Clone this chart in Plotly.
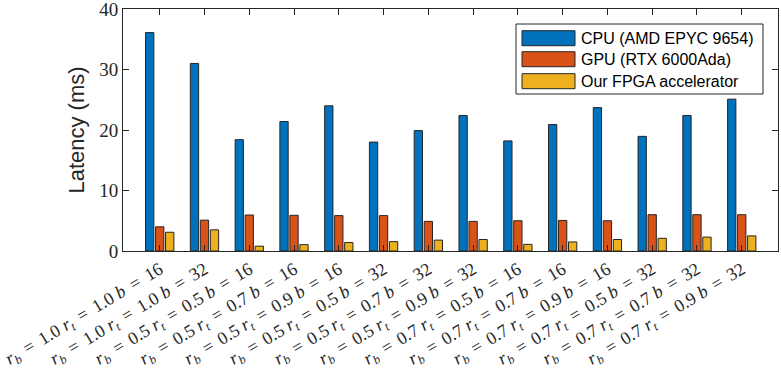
import plotly.graph_objects as go

# configuration parameters per group
rb_vals = ['1.0', '1.0', '0.5', '0.5', '0.5', '0.5', '0.5', '0.5', '0.7', '0.7', '0.7', '0.7', '0.7', '0.7']
rt_vals = ['1.0', '1.0', '0.5', '0.7', '0.9', '0.5', '0.7', '0.9', '0.5', '0.7', '0.9', '0.5', '0.7', '0.9']
b_vals = [16, 32, 16, 16, 16, 32, 32, 32, 16, 16, 16, 32, 32, 32]

# latency in ms
cpu_ms = [36.1, 31.0, 18.4, 21.4, 24.0, 18.0, 19.9, 22.4, 18.2, 20.9, 23.7, 18.95, 22.4, 25.1]
gpu_ms = [4.0, 5.1, 5.95, 5.9, 5.85, 5.85, 4.9, 4.9, 5.0, 5.05, 5.0, 6.0, 6.0, 6.0]
fpga_ms = [3.1, 3.5, 0.8, 1.05, 1.4, 1.55, 1.8, 1.9, 1.1, 1.5, 1.9, 2.1, 2.3, 2.5]

series_names = ['CPU (AMD EPYC 9654)', 'GPU (RTX 6000Ada)', 'Our FPGA accelerator']
series_colors = ['#0072BD', '#D95319', '#EDB120']

W, H = 781, 370
margin = dict(l=123, r=3, t=9, b=119)
EQ = '\u2004\u200a=\u2004\u200a'

labels = []
for rb, rt, b in zip(rb_vals, rt_vals, b_vals):
    labels.append(f'<i>r</i><sub><i>b</i></sub>{EQ}{rb} <i>r</i><sub><i>t</i></sub>{EQ}{rt} <i>b</i>{EQ}{b}')

fig = go.Figure()
for name, vals, col in zip(series_names, [cpu_ms, gpu_ms, fpga_ms], series_colors):
    fig.add_trace(go.Bar(x=labels, y=vals, name=name,
                         marker=dict(color=col, line=dict(color='#262626', width=1)),
                         showlegend=False))

axis_common = dict(showline=True, linecolor='#262626', linewidth=1, mirror='ticks',
                   ticks='inside', ticklen=6, tickcolor='#262626', showgrid=False,
                   zeroline=False, automargin=False, ticklabeloverflow='allow')

fig.update_layout(
    width=W, height=H, margin=margin,
    plot_bgcolor='white', paper_bgcolor='white',
    barmode='group', bargap=0.33, bargroupgap=0.17,
    xaxis=dict(range=[-0.82, 13.81], tickangle=-31,
               tickfont=dict(family='Liberation Serif', size=18, color='#262626'),
               **axis_common),
    yaxis=dict(range=[0, 40], tickvals=[0, 10, 20, 30, 40],
               tickfont=dict(family='Liberation Serif', size=19, color='#262626'),
               title=dict(text='Latency (ms)', standoff=8,
                          font=dict(family='Liberation Sans', size=22, color='#262626')),
               **axis_common),
)

# legend box drawn in pixel space converted to paper coordinates
pw = W - margin['l'] - margin['r']
ph = H - margin['t'] - margin['b']
px_ = lambda x: (x - margin['l']) / pw
py_ = lambda y: (H - margin['b'] - y) / ph

fig.add_shape(type='rect', xref='paper', yref='paper',
              x0=px_(516), x1=px_(763), y0=py_(94), y1=py_(24),
              line=dict(color='#262626', width=1), fillcolor='white')
row_y = [38.2, 59.2, 81.2]
for name, col, yc in zip(series_names, series_colors, row_y):
    fig.add_shape(type='rect', xref='paper', yref='paper',
                  x0=px_(522), x1=px_(575), y0=py_(yc + 7.5), y1=py_(yc - 7.5),
                  line=dict(color='#262626', width=1), fillcolor=col)
    fig.add_annotation(xref='paper', yref='paper', x=px_(579), y=py_(yc),
                       text=name, showarrow=False, xanchor='left', yanchor='middle',
                       font=dict(family='Liberation Sans', size=16, color='black'))

# page body has a default margin; remove it so the figure sits at the window origin
fig.write_html("out.html", config={'displayModeBar': False},
               post_script="document.body.style.margin='0';")
